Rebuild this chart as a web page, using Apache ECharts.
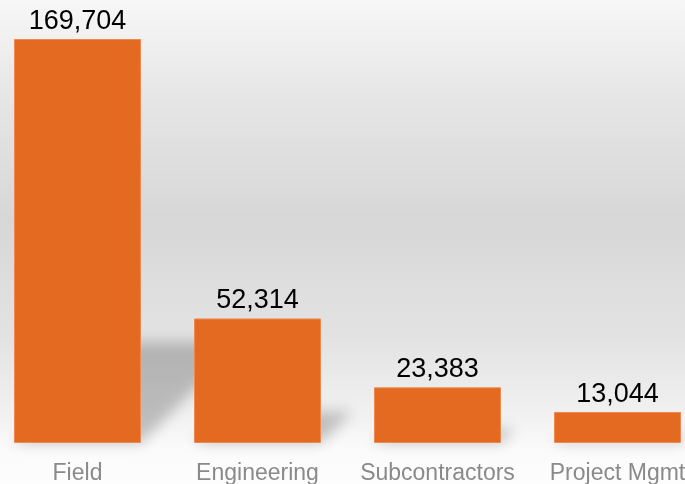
<!DOCTYPE html>
<html>
<head>
<meta charset="utf-8">
<script src="https://cdn.jsdelivr.net/npm/echarts@6/dist/echarts.min.js"></script>
<style>html,body{margin:0;padding:0;}#c{width:685px;height:484px;}</style>
</head>
<body>
<div id="c"></div>
<script>
const categories = ['Field', 'Engineering', 'Subcontractors', 'Project Mgmt'];
const values = [169704, 52314, 23383, 13044];

const chart = echarts.init(document.getElementById('c'), null, {renderer: 'canvas'});
const OFF = 3000;
const option = {
  animation: false,
  backgroundColor: {
    type: 'linear', x: 0, y: 0, x2: 0, y2: 1,
    colorStops: [
      {offset: 0, color: '#f7f7f7'},
      {offset: 0.2, color: '#e6e6e6'},
      {offset: 0.45, color: '#d7d7d7'},
      {offset: 0.7, color: '#e3e3e3'},
      {offset: 0.86, color: '#f1f1f1'},
      {offset: 0.93, color: '#fbfbfb'},
      {offset: 1, color: '#fdfdfd'}
    ]
  },
  grid: {left: -12.5, right: -22.5, top: 39, bottom: 41, containLabel: false, outerBoundsMode: 'none'},
  xAxis: {
    type: 'category',
    data: categories,
    axisLine: {show: false},
    axisTick: {show: false},
    axisLabel: {
      color: '#8a8a8a',
      fontSize: 23,
      fontFamily: '"Liberation Sans", Arial, sans-serif',
      margin: 19,
      interval: 0
    }
  },
  yAxis: {
    type: 'value',
    min: 0,
    max: function (v) { return v.max; },
    show: false,
    splitLine: {show: false}
  },
  series: [
    {
      type: 'custom',
      z: 1,
      data: values.map((v, i) => [i, v]),
      renderItem: function (params, api) {
        const i = api.value(0);
        const v = api.value(1);
        const base = api.coord([i, 0]);
        const top = api.coord([i, v]);
        const half = 127 / 2;
        const h = (base[1] - top[1]) * 0.25;
        const dx = h;
        const pts = [
          [base[0] - half - OFF, base[1]],
          [base[0] + half - OFF, base[1]],
          [base[0] + half + dx - OFF, base[1] - h],
          [base[0] - half + dx - OFF, base[1] - h]
        ];
        return {
          type: 'polygon',
          shape: {points: pts},
          style: {
            fill: '#000',
            shadowColor: 'rgba(0,0,0,0.22)',
            shadowBlur: 14,
            shadowOffsetX: OFF,
            shadowOffsetY: 0
          },
          silent: true
        };
      }
    },
    {
      type: 'bar',
      z: 2,
      data: values,
      barWidth: 127,
      itemStyle: {color: '#e56a21', borderColor: '#ee8a4f', borderWidth: 1},
      label: {
        show: true,
        position: 'top',
        distance: 4,
        color: '#000',
        fontSize: 27,
        fontFamily: '"Liberation Sans", Arial, sans-serif',
        formatter: function (p) { return p.value.toLocaleString('en-US'); }
      }
    }
  ]
};
chart.setOption(option);
</script>
</body>
</html>
